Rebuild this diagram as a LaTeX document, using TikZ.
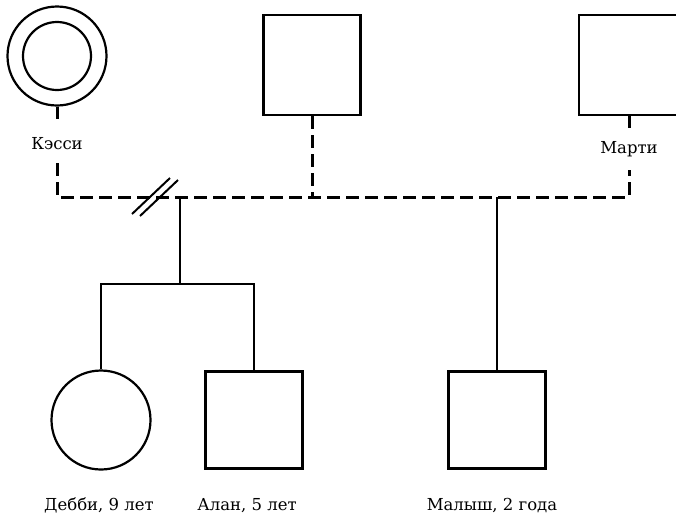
\documentclass[tikz,border=0pt]{standalone}
\usepackage{fontspec}
\setmainfont{DejaVu Serif}
\begin{document}
\begin{tikzpicture}[x=1pt,y=-1pt,
  every node/.style={font=\fontsize{16.5}{19}\selectfont},
  maleperson/.style={draw, line width=2.2pt, rectangle, minimum size=97pt, inner sep=0pt},
  femaleperson/.style={draw, line width=2.2pt, circle, minimum size=99pt, inner sep=0pt},
  caption/.style={inner sep=0pt, anchor=base},
  tie/.style={line width=2pt},
  loose/.style={line width=3pt, dash pattern=on 12.5pt off 6.5pt}]
\useasboundingbox (0,0) rectangle (676,515);

% people
\node[femaleperson] (cassie) at (57,56) {};
\node[draw, line width=2.2pt, circle, minimum size=68pt, inner sep=0pt] (cassiein) at (cassie) {};
\node[maleperson, minimum height=100pt] (father) at (312,65) {};
\node[maleperson, minimum height=100pt, minimum width=100pt] (marty) at (629,65) {};
\node[femaleperson] (debbie) at (101,420) {};
\node[maleperson] (alan) at (254,420) {};
\node[maleperson] (baby) at (497,420) {};

% names
\node[caption, text height=29pt, text depth=14pt] (cassiename) at (57,149) {Кэсси};
\node[caption, text height=25pt, text depth=17pt] (martyname) at (629,153) {Марти};
\node[caption] (debbiename) at (99,510) {Дебби, 9 лет};
\node[caption] (alanname) at (247,510) {Алан, 5 лет};
\node[caption] (babyname) at (492,510) {Малыш, 2 года};

% partnership line
\coordinate (cj) at (57,197);
\coordinate (mj) at (629,197);
\coordinate (cm) at (180,197);
\coordinate (div) at (155,197);
\coordinate (sib) at (180,284);

\draw[loose] (cassie.south) -- (cassiename.north);
\draw[loose] (cassiename.south) -- (cj) -- (mj) -- (martyname.south);
\draw[loose] (martyname.north) -- (marty.south);
\draw[loose] (father.south) -- (father.south |- cj);

% divorce mark
\draw[tie] ([shift={(-23,17)}]div) -- ([shift={(15,-19)}]div);
\draw[tie] ([shift={(-15,19)}]div) -- ([shift={(23,-17)}]div);

% children
\draw[tie] (cm) -- (sib);
\draw[tie] (debbie.north) -- (debbie.north |- sib) -- (alan.north |- sib) -- (alan.north);
\draw[tie] (baby.north) -- (baby.north |- cj);
\end{tikzpicture}
\end{document}
